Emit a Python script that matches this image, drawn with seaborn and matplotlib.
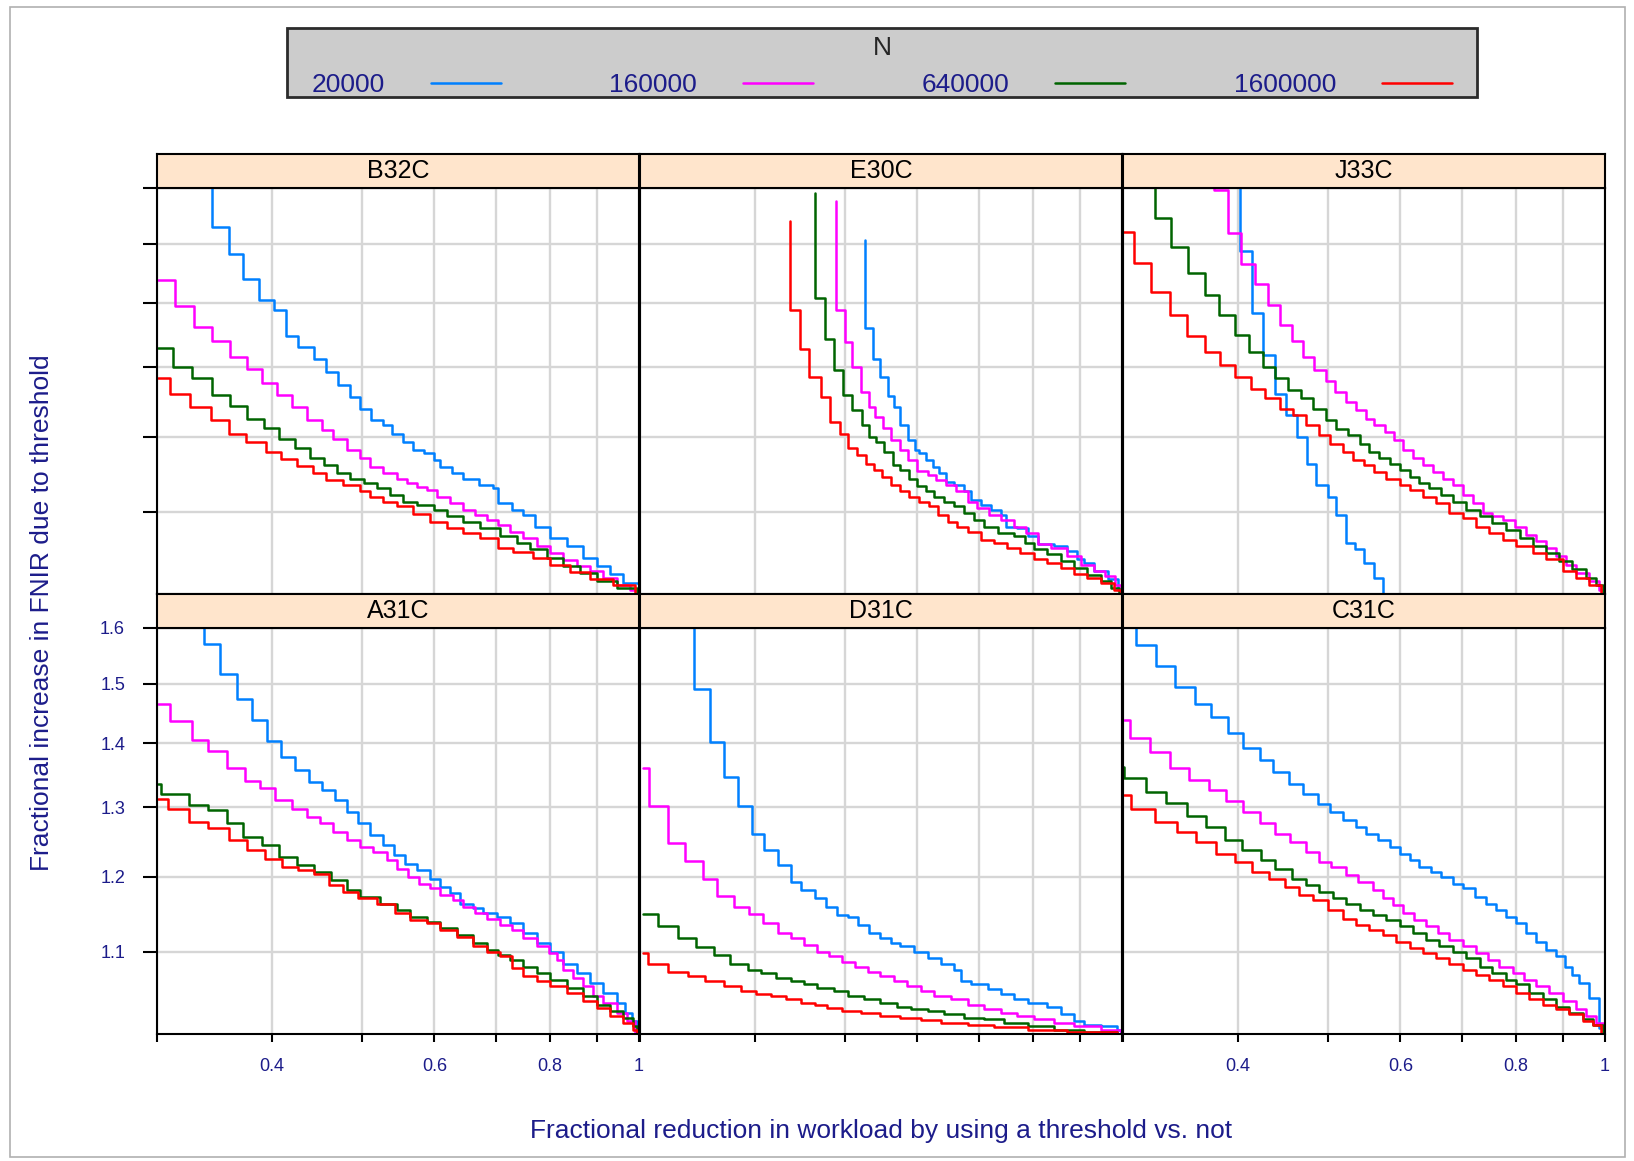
import numpy as np
import pandas as pd
import seaborn as sns
import matplotlib
matplotlib.use("Agg")
import matplotlib.pyplot as plt
from matplotlib.lines import Line2D
from matplotlib.patches import Rectangle
from matplotlib.ticker import FixedLocator, FixedFormatter, NullLocator, NullFormatter

sns.set_theme(style="white")
plt.rcParams["font.family"] = ["Liberation Sans", "DejaVu Sans"]

N_levels = ["20000", "160000", "640000", "1600000"]
line_colors = ["#0080ff", "#ff00ff", "#006400", "#ff0000"]
panels = ["B32C", "E30C", "J33C", "A31C", "D31C", "C31C"]

x_ticks = [0.3, 0.4, 0.5, 0.6, 0.7, 0.8, 0.9, 1.0]
x_tick_labels = ["", "0.4", "", "0.6", "", "0.8", "", "1"]
y_ticks = [1.1, 1.2, 1.3, 1.4, 1.5, 1.6]
y_tick_labels = ["1.1", "1.2", "1.3", "1.4", "1.5", "1.6"]

# ---- B32C
b32c_20000_x = [0.344, 0.344, 0.359, 0.372, 0.387, 0.402, 0.414, 0.427, 0.444, 0.457, 0.471, 0.486, 0.498, 0.512, 0.528, 0.539, 0.554, 0.569, 0.584, 0.599, 0.609, 0.627, 0.645, 0.670, 0.695, 0.704, 0.728, 0.749, 0.771, 0.801, 0.835, 0.870, 0.900, 0.930, 0.962, 1.0]
b32c_20000_y = [1.65, 1.529, 1.483, 1.440, 1.405, 1.389, 1.348, 1.331, 1.312, 1.293, 1.273, 1.256, 1.239, 1.223, 1.216, 1.204, 1.193, 1.181, 1.177, 1.168, 1.159, 1.150, 1.143, 1.135, 1.130, 1.111, 1.102, 1.096, 1.081, 1.067, 1.057, 1.042, 1.033, 1.023, 1.013, 1.001]
b32c_160000_x = [0.301, 0.314, 0.329, 0.344, 0.360, 0.376, 0.390, 0.405, 0.420, 0.436, 0.453, 0.466, 0.482, 0.498, 0.511, 0.528, 0.546, 0.560, 0.574, 0.589, 0.604, 0.624, 0.645, 0.664, 0.684, 0.704, 0.725, 0.749, 0.775, 0.801, 0.828, 0.856, 0.885, 0.915, 0.946, 0.978, 1.0]
b32c_160000_y = [1.439, 1.395, 1.362, 1.341, 1.316, 1.298, 1.277, 1.259, 1.241, 1.223, 1.209, 1.197, 1.181, 1.170, 1.159, 1.150, 1.143, 1.137, 1.132, 1.128, 1.119, 1.111, 1.102, 1.096, 1.090, 1.083, 1.075, 1.067, 1.057, 1.049, 1.040, 1.033, 1.027, 1.019, 1.011, 1.005, 1.0]
b32c_640000_x = [0.301, 0.312, 0.327, 0.344, 0.360, 0.376, 0.392, 0.407, 0.424, 0.440, 0.455, 0.470, 0.486, 0.503, 0.520, 0.537, 0.555, 0.574, 0.599, 0.619, 0.645, 0.672, 0.707, 0.737, 0.762, 0.794, 0.828, 0.863, 0.900, 0.946, 0.994]
b32c_640000_y = [1.329, 1.301, 1.284, 1.259, 1.243, 1.225, 1.212, 1.197, 1.184, 1.171, 1.161, 1.151, 1.143, 1.137, 1.130, 1.122, 1.113, 1.109, 1.102, 1.094, 1.087, 1.079, 1.069, 1.061, 1.053, 1.043, 1.033, 1.025, 1.015, 1.007, 1.000]
b32c_1600000_x = [0.301, 0.310, 0.326, 0.343, 0.359, 0.375, 0.394, 0.409, 0.426, 0.443, 0.458, 0.478, 0.498, 0.511, 0.528, 0.546, 0.569, 0.594, 0.619, 0.645, 0.672, 0.704, 0.730, 0.767, 0.801, 0.842, 0.885, 0.938, 0.990]
b32c_1600000_y = [1.284, 1.261, 1.242, 1.223, 1.204, 1.193, 1.179, 1.169, 1.160, 1.151, 1.141, 1.134, 1.127, 1.119, 1.113, 1.107, 1.097, 1.087, 1.080, 1.073, 1.067, 1.055, 1.050, 1.042, 1.034, 1.026, 1.018, 1.010, 1.001]

# ---- E30C
e30c_20000_x = [0.526, 0.526, 0.537, 0.547, 0.557, 0.566, 0.575, 0.586, 0.596, 0.603, 0.613, 0.623, 0.633, 0.644, 0.658, 0.674, 0.685, 0.703, 0.721, 0.739, 0.748, 0.770, 0.790, 0.810, 0.844, 0.872, 0.894, 0.910, 0.933, 0.965, 0.989, 0.998]
e30c_20000_y = [1.506, 1.360, 1.313, 1.285, 1.258, 1.242, 1.216, 1.195, 1.181, 1.177, 1.168, 1.159, 1.150, 1.139, 1.135, 1.126, 1.115, 1.109, 1.102, 1.096, 1.081, 1.079, 1.069, 1.059, 1.057, 1.051, 1.041, 1.036, 1.027, 1.017, 1.005, 1.000]
e30c_160000_x = [0.489, 0.489, 0.500, 0.510, 0.521, 0.531, 0.540, 0.551, 0.562, 0.575, 0.586, 0.600, 0.616, 0.629, 0.644, 0.660, 0.680, 0.697, 0.718, 0.739, 0.764, 0.787, 0.810, 0.837, 0.872, 0.902, 0.933, 0.958, 0.983, 0.998]
e30c_160000_y = [1.577, 1.389, 1.339, 1.301, 1.264, 1.242, 1.228, 1.212, 1.195, 1.181, 1.168, 1.153, 1.148, 1.141, 1.135, 1.126, 1.113, 1.105, 1.096, 1.089, 1.081, 1.073, 1.059, 1.055, 1.045, 1.034, 1.027, 1.021, 1.011, 1.000]
e30c_640000_x = [0.464, 0.464, 0.476, 0.487, 0.498, 0.510, 0.522, 0.532, 0.541, 0.552, 0.565, 0.575, 0.587, 0.600, 0.613, 0.626, 0.641, 0.658, 0.674, 0.691, 0.709, 0.733, 0.764, 0.784, 0.803, 0.830, 0.858, 0.887, 0.917, 0.948, 0.972, 0.993]
e30c_640000_y = [1.590, 1.408, 1.343, 1.296, 1.259, 1.237, 1.216, 1.199, 1.192, 1.179, 1.161, 1.154, 1.143, 1.133, 1.126, 1.119, 1.113, 1.107, 1.098, 1.089, 1.081, 1.073, 1.069, 1.061, 1.053, 1.047, 1.039, 1.030, 1.022, 1.015, 1.007, 1.000]
e30c_1600000_x = [0.436, 0.436, 0.447, 0.458, 0.471, 0.482, 0.494, 0.505, 0.516, 0.527, 0.538, 0.549, 0.561, 0.575, 0.587, 0.603, 0.618, 0.631, 0.647, 0.663, 0.680, 0.703, 0.727, 0.751, 0.776, 0.803, 0.830, 0.858, 0.887, 0.917, 0.948, 0.980, 0.997]
e30c_1600000_y = [1.540, 1.389, 1.328, 1.286, 1.256, 1.220, 1.203, 1.184, 1.174, 1.162, 1.154, 1.145, 1.135, 1.126, 1.119, 1.113, 1.107, 1.096, 1.087, 1.081, 1.075, 1.065, 1.061, 1.055, 1.049, 1.041, 1.036, 1.030, 1.024, 1.019, 1.013, 1.005, 1.000]

# ---- J33C
j33c_20000_x = [0.402, 0.402, 0.414, 0.426, 0.438, 0.451, 0.463, 0.475, 0.486, 0.500, 0.511, 0.524, 0.536, 0.548, 0.562, 0.575]
j33c_20000_y = [1.65, 1.488, 1.384, 1.318, 1.261, 1.230, 1.199, 1.163, 1.135, 1.119, 1.096, 1.061, 1.053, 1.036, 1.019, 0.98]
j33c_160000_x = [0.377, 0.377, 0.390, 0.403, 0.417, 0.431, 0.444, 0.457, 0.470, 0.484, 0.498, 0.509, 0.524, 0.537, 0.551, 0.562, 0.577, 0.591, 0.604, 0.619, 0.634, 0.650, 0.667, 0.684, 0.701, 0.719, 0.737, 0.755, 0.775, 0.798, 0.821, 0.842, 0.863, 0.885, 0.907, 0.930, 0.962, 0.986, 0.996]
j33c_160000_y = [1.65, 1.597, 1.519, 1.466, 1.431, 1.398, 1.365, 1.341, 1.316, 1.296, 1.279, 1.264, 1.249, 1.237, 1.225, 1.216, 1.206, 1.195, 1.181, 1.170, 1.161, 1.152, 1.143, 1.135, 1.122, 1.111, 1.098, 1.094, 1.089, 1.081, 1.071, 1.063, 1.055, 1.045, 1.034, 1.025, 1.015, 1.005, 1.000]
j33c_640000_x = [0.325, 0.325, 0.338, 0.353, 0.368, 0.381, 0.397, 0.411, 0.426, 0.438, 0.453, 0.468, 0.482, 0.498, 0.511, 0.526, 0.542, 0.555, 0.569, 0.584, 0.599, 0.614, 0.629, 0.645, 0.664, 0.684, 0.707, 0.731, 0.755, 0.781, 0.808, 0.835, 0.863, 0.892, 0.922, 0.954, 0.978, 0.994]
j33c_640000_y = [1.65, 1.545, 1.494, 1.450, 1.414, 1.382, 1.350, 1.324, 1.301, 1.284, 1.266, 1.254, 1.239, 1.223, 1.211, 1.202, 1.190, 1.179, 1.170, 1.162, 1.154, 1.145, 1.137, 1.130, 1.122, 1.113, 1.102, 1.094, 1.086, 1.077, 1.067, 1.057, 1.049, 1.039, 1.029, 1.019, 1.011, 1.001]
j33c_1600000_x = [0.300, 0.308, 0.322, 0.337, 0.352, 0.368, 0.382, 0.397, 0.413, 0.428, 0.444, 0.459, 0.474, 0.490, 0.503, 0.520, 0.533, 0.548, 0.562, 0.578, 0.599, 0.614, 0.634, 0.656, 0.678, 0.701, 0.725, 0.749, 0.775, 0.801, 0.835, 0.863, 0.900, 0.930, 0.962, 0.990]
j33c_1600000_y = [1.520, 1.467, 1.419, 1.382, 1.348, 1.324, 1.303, 1.285, 1.268, 1.254, 1.239, 1.230, 1.216, 1.202, 1.190, 1.179, 1.168, 1.161, 1.152, 1.143, 1.135, 1.128, 1.119, 1.111, 1.098, 1.092, 1.081, 1.073, 1.065, 1.057, 1.049, 1.041, 1.027, 1.019, 1.011, 1.001]

# ---- A31C
a31c_20000_x = [0.337, 0.337, 0.351, 0.366, 0.380, 0.395, 0.409, 0.424, 0.438, 0.453, 0.468, 0.482, 0.496, 0.511, 0.528, 0.542, 0.558, 0.574, 0.594, 0.609, 0.624, 0.640, 0.661, 0.678, 0.701, 0.725, 0.749, 0.775, 0.801, 0.828, 0.856, 0.885, 0.915, 0.946, 0.966, 0.982, 0.994]
a31c_20000_y = [1.65, 1.570, 1.517, 1.474, 1.438, 1.404, 1.378, 1.357, 1.339, 1.326, 1.311, 1.293, 1.276, 1.259, 1.244, 1.230, 1.218, 1.209, 1.197, 1.186, 1.177, 1.163, 1.157, 1.150, 1.145, 1.137, 1.124, 1.111, 1.100, 1.085, 1.073, 1.061, 1.049, 1.036, 1.025, 1.015, 1.000]
a31c_160000_x = [0.301, 0.310, 0.327, 0.341, 0.357, 0.374, 0.388, 0.403, 0.420, 0.436, 0.451, 0.466, 0.482, 0.498, 0.515, 0.533, 0.546, 0.562, 0.577, 0.594, 0.609, 0.629, 0.645, 0.664, 0.684, 0.707, 0.728, 0.749, 0.775, 0.798, 0.814, 0.828, 0.849, 0.870, 0.892, 0.915, 0.946, 0.970, 0.990]
a31c_160000_y = [1.465, 1.436, 1.405, 1.388, 1.361, 1.341, 1.330, 1.311, 1.298, 1.286, 1.276, 1.264, 1.252, 1.242, 1.235, 1.223, 1.211, 1.199, 1.190, 1.184, 1.174, 1.168, 1.159, 1.150, 1.143, 1.135, 1.128, 1.117, 1.107, 1.098, 1.089, 1.077, 1.067, 1.057, 1.045, 1.036, 1.025, 1.015, 1.000]
a31c_640000_x = [0.301, 0.303, 0.325, 0.341, 0.357, 0.372, 0.390, 0.407, 0.426, 0.444, 0.463, 0.482, 0.498, 0.524, 0.546, 0.565, 0.589, 0.609, 0.634, 0.661, 0.684, 0.704, 0.725, 0.749, 0.775, 0.801, 0.835, 0.870, 0.900, 0.930, 0.962, 0.986, 0.994]
a31c_640000_y = [1.335, 1.321, 1.303, 1.296, 1.276, 1.256, 1.244, 1.228, 1.216, 1.206, 1.195, 1.181, 1.172, 1.163, 1.154, 1.145, 1.139, 1.130, 1.122, 1.111, 1.102, 1.096, 1.089, 1.081, 1.073, 1.065, 1.055, 1.045, 1.034, 1.027, 1.019, 1.009, 1.000]
a31c_1600000_x = [0.301, 0.308, 0.325, 0.341, 0.359, 0.376, 0.393, 0.410, 0.427, 0.444, 0.461, 0.478, 0.496, 0.520, 0.544, 0.565, 0.589, 0.609, 0.634, 0.661, 0.684, 0.707, 0.728, 0.749, 0.775, 0.801, 0.835, 0.870, 0.900, 0.930, 0.962, 0.986, 0.996]
a31c_1600000_y = [1.312, 1.297, 1.278, 1.269, 1.252, 1.237, 1.225, 1.213, 1.209, 1.203, 1.188, 1.179, 1.170, 1.163, 1.150, 1.141, 1.137, 1.128, 1.119, 1.107, 1.100, 1.094, 1.079, 1.069, 1.063, 1.057, 1.049, 1.039, 1.030, 1.021, 1.013, 1.005, 1.000]

# ---- D31C
d31c_20000_x = [0.343, 0.343, 0.357, 0.370, 0.383, 0.397, 0.409, 0.423, 0.437, 0.449, 0.464, 0.478, 0.491, 0.504, 0.517, 0.532, 0.547, 0.561, 0.575, 0.595, 0.616, 0.636, 0.658, 0.669, 0.686, 0.715, 0.739, 0.764, 0.790, 0.830, 0.858, 0.887, 0.910, 0.948, 0.988, 0.997]
d31c_20000_y = [1.65, 1.491, 1.402, 1.346, 1.302, 1.260, 1.237, 1.216, 1.193, 1.181, 1.170, 1.159, 1.148, 1.145, 1.135, 1.124, 1.117, 1.111, 1.107, 1.100, 1.092, 1.085, 1.077, 1.063, 1.059, 1.053, 1.047, 1.041, 1.036, 1.032, 1.023, 1.015, 1.011, 1.009, 1.005, 1.000]
d31c_160000_x = [0.302, 0.307, 0.322, 0.336, 0.351, 0.364, 0.379, 0.394, 0.408, 0.423, 0.437, 0.452, 0.467, 0.481, 0.497, 0.513, 0.530, 0.547, 0.566, 0.585, 0.606, 0.626, 0.653, 0.680, 0.709, 0.739, 0.770, 0.803, 0.844, 0.887, 0.948, 0.997]
d31c_160000_y = [1.361, 1.302, 1.247, 1.222, 1.197, 1.173, 1.159, 1.149, 1.137, 1.124, 1.117, 1.109, 1.100, 1.094, 1.087, 1.081, 1.075, 1.069, 1.063, 1.057, 1.051, 1.045, 1.041, 1.034, 1.029, 1.025, 1.021, 1.017, 1.013, 1.009, 1.005, 1.000]
d31c_640000_x = [0.302, 0.314, 0.330, 0.345, 0.361, 0.376, 0.393, 0.406, 0.421, 0.437, 0.452, 0.467, 0.487, 0.504, 0.525, 0.547, 0.570, 0.590, 0.616, 0.641, 0.674, 0.709, 0.745, 0.790, 0.844, 0.910, 0.988]
d31c_640000_y = [1.149, 1.133, 1.117, 1.106, 1.096, 1.084, 1.077, 1.073, 1.067, 1.063, 1.059, 1.055, 1.051, 1.045, 1.041, 1.036, 1.032, 1.029, 1.027, 1.023, 1.019, 1.017, 1.013, 1.009, 1.005, 1.002, 1.000]
d31c_1600000_x = [0.302, 0.306, 0.322, 0.338, 0.353, 0.370, 0.386, 0.401, 0.416, 0.432, 0.449, 0.464, 0.479, 0.497, 0.521, 0.547, 0.575, 0.606, 0.636, 0.680, 0.727, 0.790, 0.872, 0.988]
d31c_1600000_y = [1.098, 1.084, 1.075, 1.069, 1.063, 1.057, 1.051, 1.048, 1.045, 1.041, 1.037, 1.034, 1.031, 1.027, 1.025, 1.021, 1.019, 1.016, 1.013, 1.010, 1.008, 1.005, 1.002, 1.000]

# ---- C31C
c31c_20000_x = [0.310, 0.310, 0.326, 0.342, 0.359, 0.374, 0.390, 0.405, 0.422, 0.436, 0.454, 0.470, 0.488, 0.503, 0.520, 0.537, 0.551, 0.567, 0.584, 0.599, 0.614, 0.629, 0.647, 0.664, 0.684, 0.701, 0.722, 0.743, 0.762, 0.781, 0.801, 0.821, 0.842, 0.863, 0.885, 0.904, 0.922, 0.938, 0.962, 0.984, 1.0]
c31c_20000_y = [1.65, 1.569, 1.532, 1.495, 1.466, 1.443, 1.417, 1.393, 1.374, 1.354, 1.336, 1.320, 1.305, 1.293, 1.281, 1.271, 1.261, 1.252, 1.242, 1.232, 1.223, 1.213, 1.206, 1.199, 1.190, 1.184, 1.172, 1.163, 1.154, 1.145, 1.137, 1.124, 1.113, 1.102, 1.094, 1.081, 1.071, 1.061, 1.043, 1.007, 1.000]
c31c_160000_x = [0.301, 0.305, 0.321, 0.337, 0.354, 0.372, 0.388, 0.405, 0.422, 0.439, 0.455, 0.474, 0.490, 0.505, 0.524, 0.540, 0.560, 0.574, 0.589, 0.604, 0.621, 0.640, 0.659, 0.678, 0.701, 0.725, 0.746, 0.768, 0.794, 0.817, 0.842, 0.870, 0.900, 0.930, 0.954, 0.978, 0.994]
c31c_160000_y = [1.438, 1.408, 1.386, 1.361, 1.342, 1.326, 1.310, 1.293, 1.276, 1.261, 1.249, 1.235, 1.220, 1.213, 1.202, 1.193, 1.181, 1.170, 1.161, 1.150, 1.141, 1.133, 1.124, 1.115, 1.107, 1.098, 1.089, 1.081, 1.073, 1.065, 1.057, 1.049, 1.039, 1.029, 1.021, 1.013, 1.001]
c31c_640000_x = [0.300, 0.301, 0.318, 0.334, 0.352, 0.369, 0.387, 0.404, 0.423, 0.439, 0.457, 0.474, 0.490, 0.507, 0.524, 0.542, 0.560, 0.579, 0.599, 0.619, 0.640, 0.661, 0.684, 0.707, 0.731, 0.755, 0.781, 0.801, 0.828, 0.856, 0.885, 0.915, 0.946, 0.970, 0.994]
c31c_640000_y = [1.362, 1.345, 1.324, 1.306, 1.287, 1.271, 1.252, 1.237, 1.223, 1.210, 1.197, 1.188, 1.179, 1.170, 1.163, 1.154, 1.148, 1.141, 1.133, 1.124, 1.115, 1.107, 1.100, 1.092, 1.081, 1.073, 1.065, 1.059, 1.049, 1.041, 1.032, 1.025, 1.017, 1.011, 1.001]
c31c_1600000_x = [0.301, 0.306, 0.325, 0.343, 0.360, 0.378, 0.397, 0.414, 0.432, 0.450, 0.466, 0.482, 0.500, 0.520, 0.537, 0.555, 0.574, 0.594, 0.614, 0.634, 0.656, 0.678, 0.701, 0.725, 0.749, 0.775, 0.801, 0.828, 0.856, 0.885, 0.915, 0.946, 0.970, 0.990]
c31c_1600000_y = [1.318, 1.297, 1.278, 1.264, 1.249, 1.232, 1.220, 1.206, 1.197, 1.186, 1.174, 1.168, 1.154, 1.143, 1.135, 1.128, 1.122, 1.113, 1.105, 1.098, 1.092, 1.085, 1.077, 1.071, 1.065, 1.057, 1.049, 1.041, 1.034, 1.029, 1.023, 1.015, 1.011, 1.001]

curves = {
    "B32C": [(b32c_20000_x, b32c_20000_y), (b32c_160000_x, b32c_160000_y), (b32c_640000_x, b32c_640000_y), (b32c_1600000_x, b32c_1600000_y)],
    "E30C": [(e30c_20000_x, e30c_20000_y), (e30c_160000_x, e30c_160000_y), (e30c_640000_x, e30c_640000_y), (e30c_1600000_x, e30c_1600000_y)],
    "J33C": [(j33c_20000_x, j33c_20000_y), (j33c_160000_x, j33c_160000_y), (j33c_640000_x, j33c_640000_y), (j33c_1600000_x, j33c_1600000_y)],
    "A31C": [(a31c_20000_x, a31c_20000_y), (a31c_160000_x, a31c_160000_y), (a31c_640000_x, a31c_640000_y), (a31c_1600000_x, a31c_1600000_y)],
    "D31C": [(d31c_20000_x, d31c_20000_y), (d31c_160000_x, d31c_160000_y), (d31c_640000_x, d31c_640000_y), (d31c_1600000_x, d31c_1600000_y)],
    "C31C": [(c31c_20000_x, c31c_20000_y), (c31c_160000_x, c31c_160000_y), (c31c_640000_x, c31c_640000_y), (c31c_1600000_x, c31c_1600000_y)],
}

frames = []
for panel in panels:
    for n, (xs, ys) in zip(N_levels, curves[panel]):
        frames.append(pd.DataFrame({"panel": panel, "N": n, "x": xs, "y": ys}))
df = pd.concat(frames, ignore_index=True)

navy = "#1c1c8a"
W, H = 1634, 1161
fig = plt.figure(figsize=(W / 100, H / 100), dpi=100)
fig.patch.set_facecolor("white")

col_left = [157, 640, 1123]
row_top = [188, 628]
pw, ph, strip_h = 482, 406, 34

for i, panel in enumerate(panels):
    r, c = divmod(i, 3)
    left, top = col_left[c], row_top[r]
    ax = fig.add_axes([left / W, 1 - (top + ph) / H, pw / W, ph / H])
    sns.lineplot(data=df[df["panel"] == panel], x="x", y="y", hue="N", hue_order=N_levels,
                 palette=line_colors, estimator=None, sort=False, drawstyle="steps-post",
                 lw=1.8, legend=False, ax=ax)
    ax.set_xscale("log")
    ax.set_yscale("log")
    ax.set_xlim(0.3, 1.0)
    ax.set_ylim(1.0, 1.6)
    ax.xaxis.set_major_locator(FixedLocator(x_ticks))
    ax.xaxis.set_minor_locator(NullLocator())
    ax.yaxis.set_major_locator(FixedLocator(y_ticks))
    ax.yaxis.set_minor_locator(NullLocator())
    ax.xaxis.set_minor_formatter(NullFormatter())
    ax.yaxis.set_minor_formatter(NullFormatter())
    if r == 1 and c != 1:
        ax.xaxis.set_major_formatter(FixedFormatter(x_tick_labels))
    else:
        ax.xaxis.set_major_formatter(NullFormatter())
    if r == 1 and c == 0:
        ax.yaxis.set_major_formatter(FixedFormatter(y_tick_labels))
    else:
        ax.yaxis.set_major_formatter(NullFormatter())
    ax.set_xlabel("")
    ax.set_ylabel("")
    ax.grid(True, color="#d6d6d6", lw=1.7)
    ax.set_axisbelow(True)
    for s in ax.spines.values():
        s.set_color("black")
        s.set_linewidth(1.5)
    ax.tick_params(axis="x", which="major", direction="out", length=6, width=1.5, color="black",
                   labelsize=13, labelcolor=navy, pad=11, bottom=(r == 1), top=False,
                   labelbottom=(r == 1))
    ax.tick_params(axis="y", which="major", direction="out", length=10, width=1.5, color="black",
                   labelsize=13, labelcolor=navy, pad=13, left=(c == 0), right=False,
                   labelleft=(c == 0 and r == 1))

    sax = fig.add_axes([left / W, 1 - top / H, pw / W, strip_h / H])
    sax.set_facecolor("#ffe5cc")
    sax.set_xticks([])
    sax.set_yticks([])
    for s in sax.spines.values():
        s.set_color("black")
        s.set_linewidth(1.5)
    sax.text(0.5, 0.5, panel, ha="center", va="center", fontsize=18, color="black",
             transform=sax.transAxes)

# legend box
fig.patches.append(Rectangle((287 / W, 1 - 97 / H), 1190 / W, 69 / H, transform=fig.transFigure,
                             facecolor="#cccccc", edgecolor="#2b2b2b", lw=2, zorder=1))
handles = [Line2D([], [], color=col, lw=1.8) for col in line_colors]
leg = fig.legend(handles, N_levels, loc="upper center", bbox_to_anchor=(882 / W, 1 - 36 / H),
                 ncol=4, frameon=False, markerfirst=False, title="N", fontsize=19,
                 title_fontsize=19, handlelength=2.65, handletextpad=1.75, columnspacing=4.1,
                 borderpad=0.0, borderaxespad=0.0)
for t in leg.get_texts():
    t.set_color(navy)

fig.text(881 / W, 1 - 1131 / H, "Fractional reduction in workload by using a threshold vs. not",
         ha="center", va="center", fontsize=19, color=navy)
fig.text(42 / W, 1 - 613 / H, "Fractional increase in FNIR due to threshold",
         ha="center", va="center", rotation=90, fontsize=19, color=navy)

# page frame
fig.patches.append(Rectangle((10 / W, 4 / H), 1615 / W, 1150 / H, transform=fig.transFigure,
                             facecolor="none", edgecolor="#b0b0b0", lw=1.2, zorder=0))

fig.savefig("out.png", dpi=100)
